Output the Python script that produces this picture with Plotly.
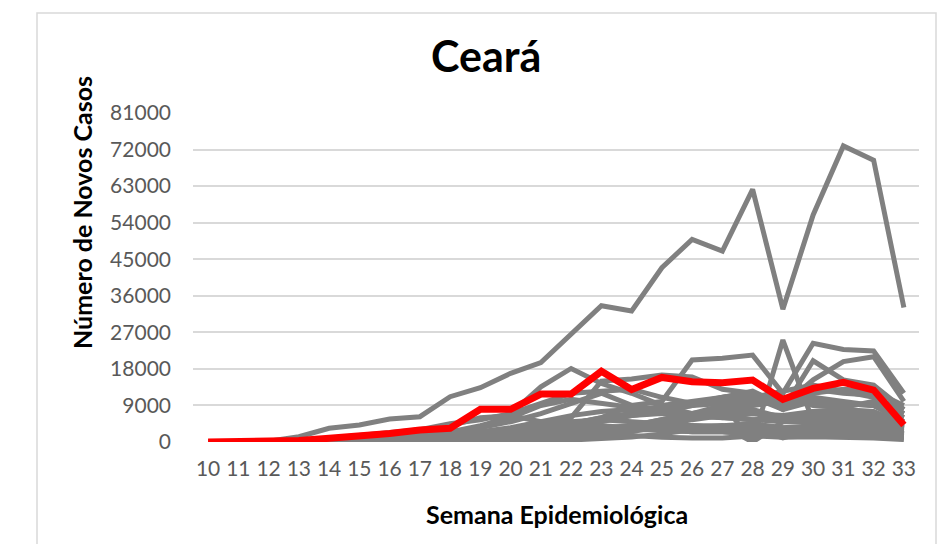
import plotly.graph_objects as go

weeks = [str(w) for w in range(10, 34)]
y_ticks = [0, 9000, 18000, 27000, 36000, 45000, 54000, 63000, 72000, 81000]

ceara = [0, 20, 60, 400, 900, 1300, 2100, 2950, 3370, 8050, 8050, 11800, 11800, 17400, 12900, 15900, 14850, 14600, 15260, 10500, 13200, 14700, 12800, 4200]

uf01 = [0, 20, 200, 1300, 3370, 4200, 5660, 6230, 11150, 13370, 16900, 19530, 26500, 33550, 32250, 42900, 49900, 47000, 62200, 32700, 55900, 72900, 69400, 33100]
uf02 = [0, 0, 10, 50, 150, 250, 400, 600, 900, 1300, 2000, 3000, 4500, 6000, 9000, 10000, 20200, 20600, 21400, 12000, 24300, 22800, 22400, 12000]
uf03 = [0, 0, 0, 0, 50, 150, 400, 900, 1800, 3500, 7000, 13600, 18100, 14400, 12000, 9000, 7000, 6000, 5500, 5000, 6500, 6000, 5500, 4000]
uf04 = [0, 0, 0, 10, 50, 150, 300, 600, 1000, 1800, 2500, 3500, 4500, 6000, 7000, 8000, 9000, 9500, 0, 25100, 5000, 8000, 7000, 5000]
uf05 = [0, 0, 0, 20, 100, 200, 400, 800, 1500, 2500, 3500, 5000, 6500, 7500, 8000, 8500, 9500, 10000, 11000, 8000, 20000, 15300, 14000, 8000]
uf06 = [0, 0, 0, 10, 50, 150, 300, 500, 800, 1200, 2000, 3000, 4000, 5000, 6500, 7500, 9000, 11000, 12500, 9000, 15300, 19800, 21000, 10000]
uf07 = [0, 10, 50, 300, 900, 1500, 2200, 3000, 4500, 5500, 7000, 9500, 12000, 12500, 13000, 11000, 9500, 11000, 12000, 8000, 10000, 9500, 9000, 5000]
uf08 = [0, 0, 10, 50, 200, 300, 500, 800, 1300, 2000, 3000, 4500, 6000, 15000, 15500, 16500, 16000, 13000, 12000, 10000, 13000, 12000, 11500, 7000]
uf09 = [0, 0, 10, 50, 200, 500, 900, 1500, 2500, 4000, 6000, 9000, 10500, 9500, 8500, 7500, 7000, 7500, 8000, 6000, 7500, 8000, 7500, 4500]
uf10 = [0, 0, 10, 50, 300, 800, 1500, 2500, 4000, 6000, 6500, 5000, 4000, 3500, 3000, 3000, 3500, 4000, 3500, 3000, 3500, 4000, 3500, 2500]
uf11 = [0, 0, 0, 20, 100, 200, 500, 1000, 2000, 3500, 5000, 7000, 9500, 12000, 9000, 7500, 6500, 6000, 5500, 6000, 7000, 6500, 6000, 3500]
uf12 = [0, 0, 20, 50, 100, 150, 200, 300, 400, 500, 700, 1000, 1500, 2000, 3000, 4500, 6000, 7500, 9000, 10000, 12000, 13000, 12500, 9000]
uf13 = [0, 0, 10, 50, 100, 150, 200, 250, 400, 600, 900, 1300, 2000, 2800, 4000, 5500, 7000, 8000, 9500, 11000, 10500, 9500, 9000, 6000]
uf14 = [0, 0, 10, 30, 80, 120, 150, 200, 300, 400, 600, 900, 1300, 2000, 3000, 4000, 6000, 8000, 10500, 11000, 9000, 8500, 10000, 7000]
uf15 = [0, 0, 5, 20, 40, 60, 100, 150, 250, 400, 700, 1200, 2000, 3000, 4000, 5500, 7000, 9000, 11000, 12500, 14000, 12500, 11000, 8000]
uf16 = [0, 0, 10, 50, 150, 200, 250, 300, 500, 800, 1500, 2500, 4000, 5500, 7000, 9000, 10000, 11000, 12000, 9000, 11000, 10000, 9000, 6000]
uf17 = [0, 0, 5, 20, 100, 200, 400, 700, 1200, 2000, 2800, 3500, 4500, 5500, 6500, 7000, 6500, 6000, 7000, 6500, 7500, 7000, 6500, 4000]
uf18 = [0, 0, 0, 10, 50, 100, 200, 400, 800, 1500, 2500, 3500, 5000, 5500, 5000, 4500, 4000, 3500, 4500, 3000, 3500, 3000, 3500, 2000]
uf19 = [0, 0, 0, 10, 30, 80, 150, 300, 500, 900, 1500, 2200, 3000, 3500, 3500, 3000, 2500, 2500, 2000, 2500, 2000, 1800, 1500, 1000]
uf20 = [0, 0, 0, 5, 20, 50, 100, 200, 400, 800, 1500, 2500, 3500, 4000, 3500, 3000, 2500, 2500, 2000, 2000, 2500, 2000, 1800, 1200]
uf21 = [0, 0, 0, 5, 10, 30, 50, 100, 200, 400, 800, 1500, 2500, 3500, 4000, 4500, 4000, 3500, 3000, 3500, 3000, 2500, 2000, 1500]
uf22 = [0, 0, 0, 5, 10, 30, 60, 100, 200, 400, 700, 1200, 1800, 2500, 3000, 3500, 4000, 4000, 4500, 3500, 4000, 3500, 3000, 2000]
uf23 = [0, 0, 0, 5, 10, 20, 40, 60, 100, 200, 300, 500, 800, 1500, 2500, 4000, 5500, 6500, 7000, 6000, 5500, 5000, 4500, 3000]
uf24 = [0, 0, 0, 5, 10, 20, 30, 50, 80, 120, 200, 300, 500, 800, 1200, 2000, 3000, 4000, 0, 5000, 5000, 4500, 5000, 3500]
uf25 = [0, 0, 0, 5, 10, 20, 40, 80, 200, 400, 800, 1200, 2000, 2500, 3000, 3500, 3500, 3000, 3500, 1000, 3000, 2500, 2500, 1500]
uf26 = [0, 0, 0, 5, 20, 80, 200, 400, 800, 1200, 1500, 2000, 2500, 2000, 1500, 1200, 1000, 1000, 1500, 1200, 1300, 1200, 1000, 600]

others = [uf01, uf02, uf03, uf04, uf05, uf06, uf07, uf08, uf09, uf10, uf11, uf12, uf13,
          uf14, uf15, uf16, uf17, uf18, uf19, uf20, uf21, uf22, uf23, uf24, uf25, uf26]

FONT = "Lato"
fig = go.Figure()
for i, s in enumerate(others):
    fig.add_trace(go.Scatter(x=weeks, y=s, mode="lines", name=f"UF {i+1}",
                             line=dict(color="#808080", width=5), showlegend=False))
fig.add_trace(go.Scatter(x=weeks, y=ceara, mode="lines", name="Ceará",
                         line=dict(color="#FF0000", width=7), showlegend=False))

# page body has an 8px default margin: the plot area is placed so that it lands
# at screen x 193..919, y 113..442
fig.update_layout(
    width=938, height=536,
    margin=dict(l=185, r=27, t=105, b=102),
    paper_bgcolor="white", plot_bgcolor="white",
    font=dict(family=FONT, color="#595959"),
    xaxis=dict(type="category", range=[-0.5, 23.5], showgrid=False, zeroline=False,
               showline=False, ticks="", tickfont=dict(size=21, color="#595959"),
               ticklabelstandoff=12, automargin=False),
    yaxis=dict(range=[0, 81000], tickvals=y_ticks, ticktext=[str(v) for v in y_ticks],
               showgrid=True, gridcolor="#d9d9d9", gridwidth=1.5, zeroline=False,
               showline=False, ticks="", tickfont=dict(size=21, color="#595959"),
               ticklabelstandoff=21, automargin=False),
    shapes=[dict(type="rect", xref="paper", yref="paper",
                 x0=(37 - 193) / 726, x1=(936 - 193) / 726,
                 y0=(442 - 560) / 329, y1=(442 - 13) / 329,
                 line=dict(color="#d9d9d9", width=1.5), fillcolor="rgba(0,0,0,0)", layer="below")],
    annotations=[
        dict(text="<b>Ceará</b>", xref="paper", yref="paper",
             x=(485.5 - 193) / 726, y=(442 - 56) / 329, showarrow=False,
             xanchor="center", yanchor="middle", font=dict(family=FONT, size=43, color="black")),
        dict(text="<b>Semana Epidemiológica</b>", xref="paper", yref="paper",
             x=(556.5 - 193) / 726, y=(442 - 514) / 329, showarrow=False,
             xanchor="center", yanchor="middle", font=dict(family=FONT, size=25, color="black")),
        dict(text="<b>Número de Novos Casos</b>", xref="paper", yref="paper",
             x=(82 - 193) / 726, y=(442 - 213) / 329, showarrow=False, textangle=-90,
             xanchor="center", yanchor="middle", font=dict(family=FONT, size=25, color="black")),
    ],
)

fig.write_html("out.html")
